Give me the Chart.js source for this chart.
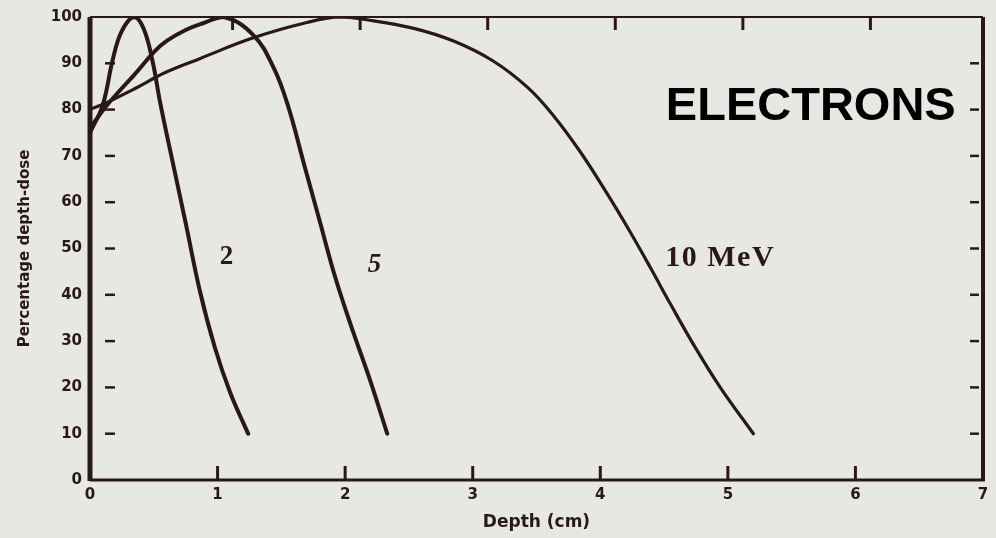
<!DOCTYPE html>
<html>
<head>
<meta charset="utf-8">
<script src="https://cdn.jsdelivr.net/npm/chart.js@4/dist/chart.umd.min.js"></script>
<style>
  html,body{margin:0;padding:0;background:#e7e8e3;}
  #wrap{width:996px;height:538px;position:relative;}
</style>
</head>
<body>
<div id="wrap"><canvas id="c" width="996" height="538"></canvas></div>
<script>
// Depth (cm) and percentage depth-dose values
const depth2  = [0, 0.10, 0.18, 0.25, 0.345, 0.42, 0.49, 0.55, 0.63, 0.75, 0.86, 0.98, 1.10, 1.24];
const dose2   = [75, 81, 91, 97, 100, 97.5, 90.5, 81.5, 71, 55.5, 41, 28.5, 18.8, 10];

const depth5  = [0, 0.12, 0.22, 0.35, 0.51, 0.61, 0.75, 0.88, 1.05, 1.28, 1.44, 1.55, 1.68, 1.80, 1.92, 2.05, 2.19, 2.33];
const dose5   = [76, 80.5, 83.7, 87.6, 92.7, 95, 97.2, 98.6, 100, 96.1, 89, 81, 68, 56, 44, 33, 22, 10];

const depth10 = [0, 0.13, 0.35, 0.59, 0.86, 1.28, 1.70, 1.95, 2.17, 2.53, 2.85, 3.16, 3.43, 3.63, 3.84, 4.05, 4.24, 4.40, 4.55, 4.73, 4.94, 5.20];
const dose10  = [80, 81.5, 84.5, 88, 91, 95.5, 98.8, 100, 99.4, 97.6, 94.8, 90.5, 84.8, 78.8, 71, 62, 53.3, 45.5, 38, 29.3, 20, 10];

const xTicks = [0, 1, 2, 3, 4, 5, 6, 7];
const yTicks = [0, 10, 20, 30, 40, 50, 60, 70, 80, 90, 100];

const curveLabels = [
  {text: '2',      x: 1.07, y: 48.1, size: 27, italic: false},
  {text: '5',      x: 2.23, y: 46.4, size: 27, italic: true},
  {text: '10 MeV', x: 4.94, y: 47.9, size: 30, italic: false}
];
const bigLabel = {text: 'ELECTRONS', x: 5.65, y: 80.5};

const ink = '#2a1818';

function pts(xs, ys){ return xs.map((x,i)=>({x:x, y:ys[i]})); }

const framePlugin = {
  id: 'frame',
  afterDatasetsDraw(chart){
    const {ctx, chartArea: a, scales: {x, y}} = chart;
    ctx.save();
    ctx.strokeStyle = ink;
    ctx.lineCap = 'butt';
    ctx.lineWidth = 2;
    ctx.beginPath(); ctx.moveTo(a.left, a.top); ctx.lineTo(a.right, a.top); ctx.stroke();
    ctx.lineWidth = 4;
    ctx.beginPath(); ctx.moveTo(a.right, a.top); ctx.lineTo(a.right, a.bottom); ctx.stroke();
    ctx.lineWidth = 3;
    ctx.beginPath(); ctx.moveTo(a.left, a.bottom); ctx.lineTo(a.right+2, a.bottom); ctx.stroke();
    ctx.lineWidth = 5;
    ctx.beginPath(); ctx.moveTo(a.left, a.top); ctx.lineTo(a.left, a.bottom+1); ctx.stroke();
    ctx.lineWidth = 3;
    xTicks.forEach(v => {
      if (v === xTicks[0] || v === xTicks[xTicks.length-1]) return;
      const px = x.getPixelForValue(v);
      ctx.beginPath(); ctx.moveTo(px, a.bottom); ctx.lineTo(px, a.bottom - 14); ctx.stroke();
      ctx.beginPath(); ctx.moveTo(px + 15, a.top); ctx.lineTo(px + 15, a.top + 13); ctx.stroke();
    });
    ctx.lineWidth = 2.5;
    yTicks.forEach(v => {
      if (v === yTicks[0] || v === yTicks[yTicks.length-1]) return;
      const py = y.getPixelForValue(v);
      ctx.beginPath(); ctx.moveTo(a.left + 15, py); ctx.lineTo(a.left + 25, py); ctx.stroke();
      ctx.beginPath(); ctx.moveTo(a.right - 13, py); ctx.lineTo(a.right - 4, py); ctx.stroke();
    });
    ctx.fillStyle = ink;
    ctx.textAlign = 'center';
    ctx.textBaseline = 'middle';
    curveLabels.forEach(l => {
      ctx.font = (l.italic ? 'italic ' : '') + 'bold ' + l.size + 'px "Liberation Serif", serif';
      ctx.letterSpacing = l.text.length > 2 ? '1.5px' : '0px';
      ctx.fillText(l.text, x.getPixelForValue(l.x), y.getPixelForValue(l.y));
    });
    ctx.letterSpacing = '0px';
    ctx.fillStyle = '#000';
    ctx.font = 'bold 47px "Liberation Sans", Arial, sans-serif';
    ctx.fillText(bigLabel.text, x.getPixelForValue(bigLabel.x), y.getPixelForValue(bigLabel.y));
    ctx.restore();
  }
};

const bgPlugin = {
  id: 'bg',
  beforeDraw(chart){
    const ctx = chart.ctx;
    ctx.save();
    ctx.fillStyle = '#e7e8e3';
    ctx.fillRect(0, 0, chart.width, chart.height);
    ctx.restore();
  }
};

const lineStyle = (w) => ({
  borderColor: ink, borderWidth: w, pointRadius: 0, showLine: true,
  fill: false, tension: 0.4, borderCapStyle: 'round', borderJoinStyle: 'round'
});

new Chart(document.getElementById('c'), {
  type: 'scatter',
  data: {
    datasets: [
      Object.assign({label: '2 MeV',  data: pts(depth2, dose2)},  lineStyle(4)),
      Object.assign({label: '5 MeV',  data: pts(depth5, dose5)},  lineStyle(4)),
      Object.assign({label: '10 MeV', data: pts(depth10, dose10)}, lineStyle(3.2))
    ]
  },
  options: {
    responsive: false,
    animation: false,
    layout: {padding: {top: 14, right: 13, left: 0, bottom: 0}},
    plugins: {legend: {display: false}, tooltip: {enabled: false}},
    scales: {
      x: {
        type: 'linear', min: 0, max: 7,
        afterBuildTicks: s => { s.ticks = xTicks.map(v => ({value: v})); },
        afterFit: s => { s.height = 58; },
        grid: {display: false, drawTicks: false},
        border: {display: false},
        ticks: {color: ink, padding: 6, font: {family: '"DejaVu Sans", sans-serif', size: 15, weight: 'bold'}, maxRotation: 0},
        title: {display: true, text: 'Depth (cm)', color: ink, padding: {top: 0, bottom: 5},
                font: {family: '"DejaVu Sans", sans-serif', size: 17, weight: 'bold'}}
      },
      y: {
        type: 'linear', min: 0, max: 100,
        afterBuildTicks: s => { s.ticks = yTicks.map(v => ({value: v})); },
        afterFit: s => { s.width = 90; },
        grid: {display: false, drawTicks: false},
        border: {display: false},
        ticks: {color: ink, padding: 8, font: {family: '"DejaVu Sans", sans-serif', size: 15, weight: 'bold'}},
        title: {display: true, text: 'Percentage depth-dose', color: ink, padding: {top: 16, bottom: 0},
                font: {family: '"DejaVu Sans", sans-serif', size: 15, weight: 'bold'}}
      }
    }
  },
  plugins: [bgPlugin, framePlugin]
});
</script>
</body>
</html>
